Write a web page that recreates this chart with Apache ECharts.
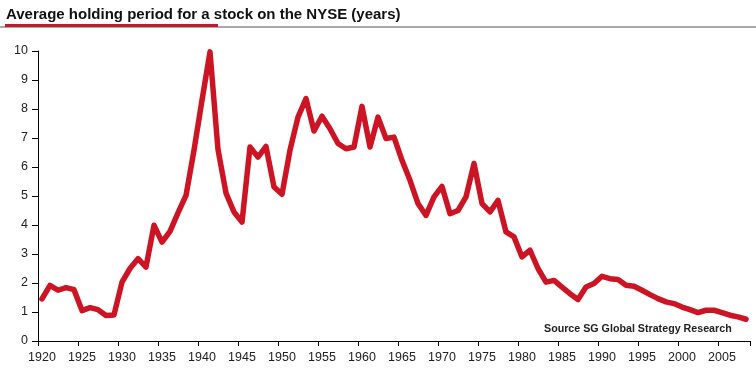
<!DOCTYPE html>
<html>
<head>
<meta charset="utf-8">
<script src="https://cdn.jsdelivr.net/npm/echarts@6/dist/echarts.min.js"></script>
<style>html,body{margin:0;padding:0;background:#fff;}#c{width:756px;height:369px;}</style>
</head>
<body>
<div id="c"></div>
<script>
var titleText = 'Average holding period for a stock on the NYSE (years)';
var sourceText = 'Source SG Global Strategy Research';
var years = [1920,1921,1922,1923,1924,1925,1926,1927,1928,1929,
  1930,1931,1932,1933,1934,1935,1936,1937,1938,1939,
  1940,1941,1942,1943,1944,1945,1946,1947,1948,1949,
  1950,1951,1952,1953,1954,1955,1956,1957,1958,1959,
  1960,1961,1962,1963,1964,1965,1966,1967,1968,1969,
  1970,1971,1972,1973,1974,1975,1976,1977,1978,1979,
  1980,1981,1982,1983,1984,1985,1986,1987,1988,1989,
  1990,1991,1992,1993,1994,1995,1996,1997,1998,1999,
  2000,2001,2002,2003,2004,2005,2006,2007,2008];
var holdingYears = [1.45,1.92,1.75,1.84,1.77,1.05,1.15,1.08,0.88,0.90,
  2.03,2.50,2.84,2.55,3.99,3.41,3.78,4.42,5.02,6.58,
  8.30,9.97,6.60,5.10,4.45,4.10,6.69,6.34,6.71,5.31,
  5.06,6.58,7.72,8.36,7.24,7.75,7.32,6.81,6.63,6.69,
  8.09,6.69,7.72,6.98,7.03,6.23,5.54,4.74,4.33,4.97,
  5.33,4.39,4.50,4.97,6.12,4.74,4.45,4.85,3.76,3.59,
  2.90,3.13,2.50,2.03,2.09,1.86,1.63,1.43,1.86,1.98,
  2.23,2.15,2.12,1.92,1.89,1.75,1.60,1.46,1.35,1.29,
  1.17,1.08,0.98,1.06,1.06,0.98,0.89,0.83,0.75];
var yMin = 0, yMax = 10, yStep = 1, xLabelStep = 5;

var chart = echarts.init(document.getElementById('c'), null, {renderer: 'canvas'});
chart.setOption({
  animation: false,
  backgroundColor: '#ffffff',
  title: {
    text: titleText,
    left: 1, top: 2,
    textStyle: {fontFamily: 'Liberation Sans', fontSize: 15, fontWeight: 'bold', color: '#111'}
  },
  graphic: [
    {type: 'rect', shape: {x: 0, y: 26.5, width: 756, height: 1}, style: {fill: '#555'}},
    {type: 'rect', shape: {x: 5, y: 24, width: 213, height: 3}, style: {fill: '#c8162b'}},
    {type: 'text', left: 544, top: 324, style: {text: sourceText, fontFamily: 'Liberation Sans', fontSize: 10.7, fontWeight: 'bold', fill: '#222'}}
  ],
  grid: {left: 38, right: 6, top: 51, bottom: 28, containLabel: false},
  xAxis: {
    type: 'category',
    data: years,
    boundaryGap: true,
    axisLine: {lineStyle: {color: '#000', width: 1}},
    axisTick: {show: true, length: 5, interval: function (i) { return i % xLabelStep === 0; }, lineStyle: {color: '#000'}},
    axisLabel: {interval: function (i) { return i % xLabelStep === 0; }, margin: 10, fontFamily: 'Liberation Sans', fontSize: 12.5, color: '#222'},
    splitLine: {show: false}
  },
  yAxis: {
    type: 'value',
    min: yMin, max: yMax, interval: yStep,
    axisLine: {show: true, lineStyle: {color: '#000', width: 1}},
    axisTick: {show: true, length: 6, lineStyle: {color: '#000'}},
    axisLabel: {margin: 10, fontFamily: 'Liberation Sans', fontSize: 12.5, color: '#222'},
    splitLine: {show: false}
  },
  series: [{
    type: 'line',
    data: holdingYears,
    symbol: 'none',
    lineStyle: {color: '#cc1424', width: 5.5, join: 'round', cap: 'round'},
    clip: false
  }]
});
</script>
</body>
</html>
